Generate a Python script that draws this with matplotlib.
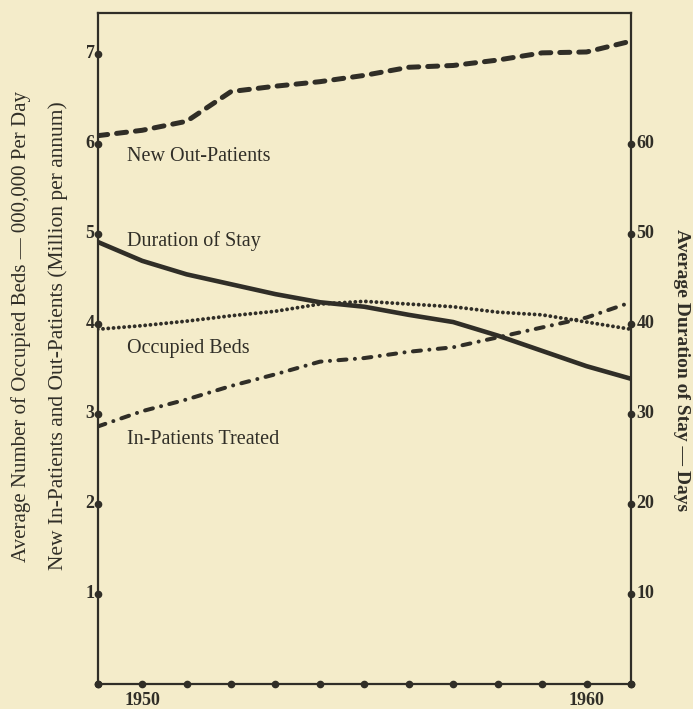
import matplotlib.pyplot as plt

# Data
years = [1949, 1950, 1951, 1952, 1953, 1954, 1955, 1956, 1957, 1958, 1959, 1960, 1961]

out_patients = [6.09, 6.15, 6.25, 6.58, 6.64, 6.69, 6.76, 6.85, 6.87, 6.93, 7.01, 7.02, 7.14]
duration = [49.1, 47.0, 45.5, 44.4, 43.3, 42.4, 41.9, 41.0, 40.2, 38.7, 37.0, 35.3, 33.9]
occupied_beds = [3.94, 3.98, 4.03, 4.09, 4.14, 4.22, 4.25, 4.22, 4.19, 4.13, 4.10, 4.02, 3.94]
in_patients = [2.86, 3.03, 3.16, 3.31, 3.44, 3.58, 3.62, 3.69, 3.74, 3.85, 3.96, 4.07, 4.24]

left_ticks = [1, 2, 3, 4, 5, 6, 7]
right_ticks = [10, 20, 30, 40, 50, 60]
year_labels = {1950: "1950", 1960: "1960"}

bg = "#f4ecca"
ink = "#302e27"
font = "Liberation Serif"

fig = plt.figure(figsize=(6.93, 7.09), dpi=100, facecolor=bg)
ax = fig.add_axes([0.141, 0.0353, 0.7695, 0.946])
ax.set_facecolor(bg)
ax.set_xlim(1949, 1961)
ax.set_ylim(0, 7.45)

# Lines
ax.plot(years, out_patients, color=ink, lw=3.6, dashes=(2.0, 1.8),
        dash_capstyle="round")
ax.plot(years, [d / 10 for d in duration], color=ink, lw=3.3,
        solid_capstyle="round")
ax.plot(years, occupied_beds, color=ink, lw=2.8, dashes=(0.01, 1.35),
        dash_capstyle="round")
ax.plot(years, in_patients, color=ink, lw=2.9, dashes=(2.0, 2.1, 0.01, 2.1),
        dash_capstyle="round")

# Inline labels
lab = dict(fontsize=14.5, family=font, color=ink, va="baseline")
ax.text(1949.66, 5.81, "New Out-Patients", **lab)
ax.text(1949.66, 4.86, "Duration of Stay", **lab)
ax.text(1949.66, 3.68, "Occupied Beds", **lab)
ax.text(1949.66, 2.66, "In-Patients Treated", **lab)

# Spines and dotted tick marks
for s in ax.spines.values():
    s.set_color(ink)
    s.set_linewidth(1.6)
ax.set_xticks([])
ax.set_yticks([])

ax.plot([1949] * (len(left_ticks) + 1), [0] + left_ticks, "o", color=ink, ms=4.5,
        clip_on=False)
ax.plot([1961] * (len(right_ticks) + 1), [0] + [t / 10 for t in right_ticks], "o",
        color=ink, ms=4.5, clip_on=False)
ax.plot(years, [0] * len(years), "o", color=ink, ms=4.5, clip_on=False)

tick = dict(fontsize=13, family=font, color=ink, weight="bold")
for t in left_ticks:
    ax.text(1948.93, t, str(t), ha="right", va="center", **tick)
for t in right_ticks:
    ax.text(1961.12, t / 10, str(t), ha="left", va="center", **tick)
for y, s in year_labels.items():
    ax.text(y, -0.09, s, ha="center", va="top", **tick)

# Axis titles
fig.text(0.030, 0.539, "Average Number of Occupied Beds \u2014 000,000 Per Day",
         rotation=90, ha="center", va="center", fontsize=15, family=font,
         color=ink)
fig.text(0.084, 0.527, "New In-Patients and Out-Patients (Million per annum)",
         rotation=90, ha="center", va="center", fontsize=15.5, family=font,
         color=ink)
fig.text(0.984, 0.478, "Average Duration of Stay \u2014 Days", rotation=-90,
         ha="center", va="center", fontsize=14, family=font, color=ink,
         weight="bold")

fig.savefig("out.png", dpi=100, facecolor=bg)
